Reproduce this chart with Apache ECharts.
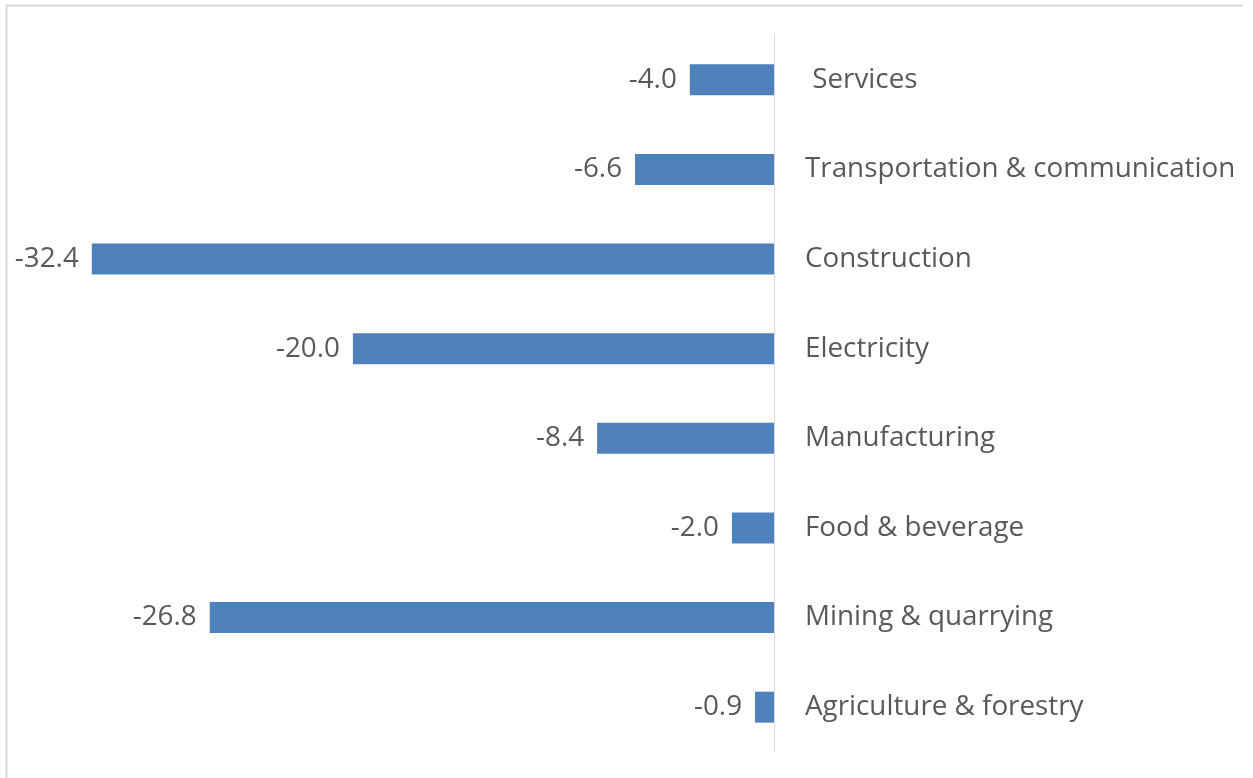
<!DOCTYPE html>
<html>
<head>
<meta charset="utf-8">
<script src="https://cdn.jsdelivr.net/npm/echarts@6/dist/echarts.min.js"></script>
<style>
  html, body { margin: 0; padding: 0; background: #ffffff; }
  #chart { width: 1253px; height: 778px; }
</style>
</head>
<body>
<div id="chart"></div>
<script>
// Sectors, listed top to bottom
const sectors = [
  ' Services',
  'Transportation & communication',
  'Construction',
  'Electricity',
  'Manufacturing',
  'Food & beverage',
  'Mining & quarrying',
  'Agriculture & forestry'
];
// Change per sector (%)
const changes = [-4.0, -6.6, -32.4, -20.0, -8.4, -2.0, -26.8, -0.9];

const textColor = '#595959';
const fontFamily = '"Open Sans", "Liberation Sans", sans-serif';

const chart = echarts.init(document.getElementById('chart'), null, { renderer: 'canvas' });

chart.setOption({
  animation: false,
  backgroundColor: '#ffffff',
  graphic: [
    // chart-area frame (top and left edges)
    { type: 'line', shape: { x1: 6, y1: 5.5, x2: 1243, y2: 5.5 }, style: { stroke: '#d9d9d9', lineWidth: 2 }, silent: true },
    { type: 'line', shape: { x1: 6.5, y1: 5, x2: 6.5, y2: 778 }, style: { stroke: '#d9d9d9', lineWidth: 2 }, silent: true }
  ],
  grid: { left: 16, width: 758, top: 35, bottom: 26, containLabel: false },
  xAxis: {
    type: 'value',
    min: -36,
    max: 0,
    show: false
  },
  yAxis: {
    type: 'category',
    data: sectors,
    inverse: true,
    position: 'right',
    axisLine: { show: true, lineStyle: { color: '#d9d9d9', width: 1 } },
    axisTick: { show: false },
    axisLabel: {
      margin: 31,
      align: 'left',
      color: textColor,
      fontSize: 27.8,
      fontFamily: fontFamily,
      padding: [4, 0, 0, 0]
    },
    splitLine: { show: false }
  },
  series: [{
    type: 'bar',
    data: changes,
    barWidth: 31,
    itemStyle: { color: '#4f81bd' },
    label: {
      show: true,
      position: 'left',
      distance: 13,
      color: textColor,
      fontSize: 27.8,
      fontFamily: fontFamily,
      padding: [4, 0, 0, 0],
      formatter: (p) => p.value.toFixed(1)
    }
  }]
});
</script>
</body>
</html>
